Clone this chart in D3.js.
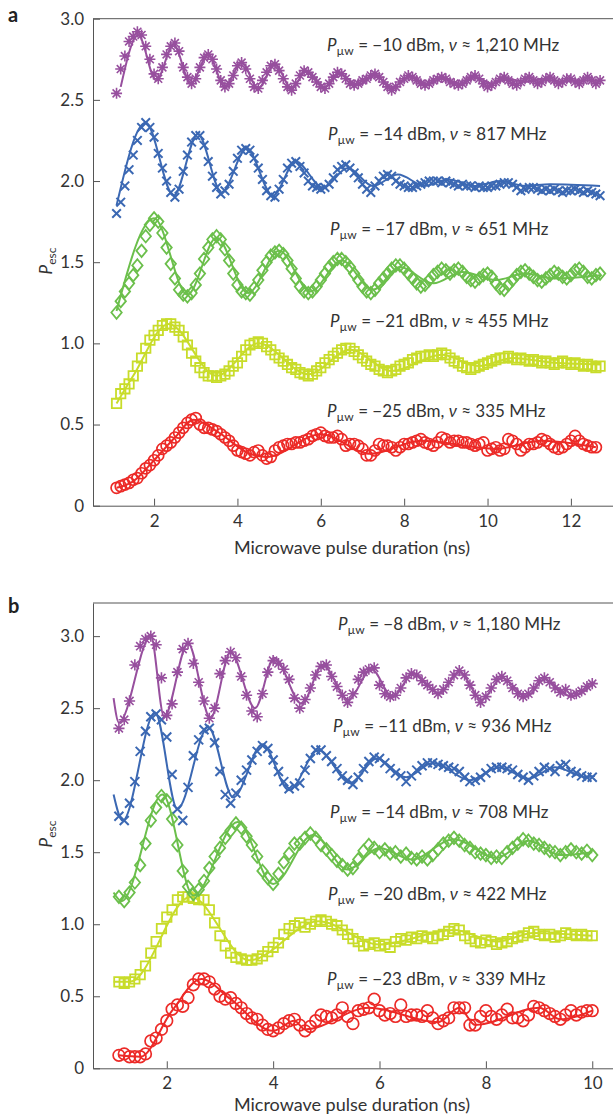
<!DOCTYPE html>
<html>
<head>
<meta charset="utf-8">
<script src="https://cdn.jsdelivr.net/npm/d3@7"></script>
<style>
  body { margin: 0; background: #fff; }
  svg text { font-family: Lato, "Open Sans", sans-serif; font-size: 17px; fill: #333; }
  .axis path, .axis line { stroke: #555; }
</style>
</head>
<body>
<svg id="chart" width="613" height="1118"></svg>
<script>
// ---------- panel a: pulse durations (ns) ----------
const timesA = [
  1.1, 1.2, 1.3, 1.4, 1.5, 1.6, 1.7, 1.8, 1.9, 2.0,
  2.1, 2.2, 2.3, 2.4, 2.5, 2.6, 2.7, 2.8, 2.9, 3.0,
  3.1, 3.2, 3.3, 3.4, 3.5, 3.6, 3.7, 3.8, 3.9, 4.0,
  4.1, 4.2, 4.3, 4.4, 4.5, 4.6, 4.7, 4.8, 4.9, 5.0,
  5.1, 5.2, 5.3, 5.4, 5.5, 5.6, 5.7, 5.8, 5.9, 6.0,
  6.1, 6.2, 6.3, 6.4, 6.5, 6.6, 6.7, 6.8, 6.9, 7.0,
  7.1, 7.2, 7.3, 7.4, 7.5, 7.6, 7.7, 7.8, 7.9, 8.0,
  8.1, 8.2, 8.3, 8.4, 8.5, 8.6, 8.7, 8.8, 8.9, 9.0,
  9.1, 9.2, 9.3, 9.4, 9.5, 9.6, 9.7, 9.8, 9.9, 10.0,
  10.1, 10.2, 10.3, 10.4, 10.5, 10.6, 10.7, 10.8, 10.9, 11.0,
  11.1, 11.2, 11.3, 11.4, 11.5, 11.6, 11.7, 11.8, 11.9, 12.0,
  12.1, 12.2, 12.3, 12.4, 12.5, 12.6, 12.7
];

// measured P_esc (offset curves), panel a
const purpleA = [
  2.54, 2.69, 2.77, 2.86, 2.89, 2.92, 2.90, 2.83, 2.75, 2.66,
  2.63, 2.70, 2.78, 2.83, 2.85, 2.80, 2.70, 2.64, 2.60, 2.63,
  2.70, 2.76, 2.78, 2.75, 2.69, 2.62, 2.58, 2.60, 2.65, 2.71,
  2.73, 2.69, 2.63, 2.58, 2.57, 2.62, 2.67, 2.71, 2.72, 2.68,
  2.63, 2.58, 2.56, 2.60, 2.65, 2.68, 2.67, 2.64, 2.61, 2.58,
  2.57, 2.60, 2.64, 2.67, 2.66, 2.63, 2.60, 2.59, 2.60, 2.62,
  2.63, 2.65, 2.66, 2.64, 2.61, 2.58, 2.56, 2.58, 2.61, 2.63,
  2.65, 2.64, 2.62, 2.60, 2.59, 2.60, 2.62, 2.63, 2.64, 2.63,
  2.61, 2.60, 2.59, 2.60, 2.62, 2.64, 2.65, 2.63, 2.60, 2.58,
  2.59, 2.61, 2.63, 2.64, 2.62, 2.60, 2.59, 2.61, 2.63, 2.64,
  2.62, 2.60, 2.61, 2.63, 2.64, 2.62, 2.60, 2.61, 2.63, 2.63,
  2.61, 2.60, 2.62, 2.64, 2.62, 2.60, 2.62
];
const blueA = [
  1.80, 1.87, 1.97, 2.07, 2.16, 2.25, 2.33, 2.36, 2.33, 2.27,
  2.17, 2.08, 2.00, 1.93, 1.90, 1.95, 2.06, 2.16, 2.24, 2.28,
  2.28, 2.22, 2.12, 2.03, 1.96, 1.92, 1.94, 1.98, 2.06, 2.14,
  2.19, 2.20, 2.19, 2.14, 2.08, 2.01, 1.94, 1.91, 1.90, 1.95,
  2.01, 2.08, 2.11, 2.12, 2.09, 2.05, 2.00, 1.97, 1.96, 1.95,
  1.96, 1.98, 2.02, 2.07, 2.09, 2.10, 2.08, 2.05, 2.02, 1.98,
  1.95, 1.93, 1.97, 2.00, 2.03, 2.04, 2.03, 2.00, 1.98, 1.97,
  1.96, 1.96, 1.97, 1.98, 1.99, 2.00, 2.00, 2.00, 1.99, 2.00,
  1.99, 1.98, 1.97, 1.98, 1.97, 1.97, 1.96, 1.97, 1.96, 1.96,
  1.97, 1.97, 1.98, 1.99, 1.99, 1.98, 1.96, 1.94, 1.95, 1.96,
  1.96, 1.95, 1.94, 1.95, 1.94, 1.95, 1.94, 1.93, 1.94, 1.94,
  1.95, 1.94, 1.93, 1.94, 1.93, 1.92, 1.91
];
const greenA = [
  1.19, 1.26, 1.32, 1.37, 1.42, 1.48, 1.57, 1.66, 1.73, 1.77,
  1.75, 1.68, 1.59, 1.49, 1.40, 1.33, 1.30, 1.29, 1.31, 1.36,
  1.43, 1.52, 1.59, 1.64, 1.66, 1.64, 1.58, 1.51, 1.43, 1.36,
  1.32, 1.31, 1.30, 1.34, 1.39, 1.45, 1.50, 1.54, 1.56, 1.57,
  1.55, 1.51, 1.46, 1.40, 1.35, 1.32, 1.31, 1.32, 1.35, 1.39,
  1.43, 1.47, 1.50, 1.52, 1.52, 1.50, 1.47, 1.43, 1.39, 1.35,
  1.32, 1.31, 1.33, 1.37, 1.40, 1.43, 1.46, 1.48, 1.48, 1.46,
  1.43, 1.40, 1.37, 1.35, 1.36, 1.39, 1.42, 1.44, 1.46, 1.45,
  1.43, 1.45, 1.46, 1.44, 1.41, 1.39, 1.38, 1.40, 1.42, 1.43,
  1.41, 1.37, 1.34, 1.33, 1.36, 1.39, 1.42, 1.44, 1.45, 1.43,
  1.41, 1.39, 1.38, 1.40, 1.42, 1.44, 1.43, 1.41, 1.40, 1.42,
  1.45, 1.46, 1.44, 1.41, 1.40, 1.42, 1.43
];
const yellowA = [
  0.63, 0.69, 0.72, 0.75, 0.80, 0.86, 0.91, 0.97, 1.02, 1.05,
  1.08, 1.11, 1.12, 1.12, 1.10, 1.08, 1.04, 0.99, 0.94, 0.89,
  0.85, 0.82, 0.80, 0.80, 0.79, 0.80, 0.81, 0.83, 0.86, 0.88,
  0.92, 0.96, 0.99, 1.00, 1.01, 1.00, 0.98, 0.96, 0.93, 0.91,
  0.89, 0.87, 0.85, 0.84, 0.82, 0.81, 0.80, 0.81, 0.83, 0.85,
  0.88, 0.90, 0.92, 0.94, 0.96, 0.97, 0.97, 0.95, 0.93, 0.91,
  0.89, 0.87, 0.86, 0.84, 0.83, 0.82, 0.83, 0.84, 0.86, 0.87,
  0.88, 0.90, 0.91, 0.92, 0.92, 0.93, 0.92, 0.93, 0.94, 0.93,
  0.91, 0.89, 0.88, 0.86, 0.85, 0.84, 0.85, 0.86, 0.87, 0.88,
  0.89, 0.90, 0.91, 0.91, 0.92, 0.91, 0.90, 0.91, 0.90, 0.89,
  0.90, 0.89, 0.88, 0.89, 0.88, 0.87, 0.88, 0.89, 0.88, 0.87,
  0.88, 0.87, 0.86, 0.87, 0.86, 0.85, 0.86
];
const redA = [
  0.11, 0.12, 0.13, 0.14, 0.16, 0.17, 0.20, 0.23, 0.25, 0.28,
  0.31, 0.35, 0.37, 0.39, 0.42, 0.45, 0.48, 0.51, 0.53, 0.54,
  0.50, 0.48, 0.48, 0.47, 0.46, 0.44, 0.42, 0.40, 0.37, 0.34,
  0.33, 0.32, 0.31, 0.33, 0.34, 0.31, 0.29, 0.30, 0.34, 0.36,
  0.37, 0.38, 0.38, 0.39, 0.39, 0.40, 0.41, 0.43, 0.44, 0.45,
  0.43, 0.42, 0.42, 0.43, 0.41, 0.37, 0.38, 0.38, 0.37, 0.35,
  0.31, 0.31, 0.34, 0.38, 0.37, 0.37, 0.36, 0.34, 0.36, 0.38,
  0.38, 0.39, 0.40, 0.41, 0.39, 0.38, 0.37, 0.39, 0.42, 0.41,
  0.39, 0.40, 0.40, 0.39, 0.39, 0.38, 0.37, 0.38, 0.39, 0.34,
  0.35, 0.36, 0.34, 0.35, 0.41, 0.40, 0.38, 0.34, 0.36, 0.38,
  0.38, 0.39, 0.41, 0.40, 0.38, 0.36, 0.35, 0.36, 0.38, 0.40,
  0.43, 0.40, 0.38, 0.37, 0.36, 0.36
];

// fitted curves, read at their turning points [t, P]
const purpleFitA = [[1.2, 2.58], [1.62, 2.90], [2.05, 2.62], [2.47, 2.84], [2.88, 2.60], [3.3, 2.78], [3.7, 2.58], [4.1, 2.73], [4.5, 2.57], [4.9, 2.72], [5.3, 2.57], [5.65, 2.68], [6.1, 2.58], [6.45, 2.66], [6.9, 2.59], [7.3, 2.65], [7.72, 2.58], [8.15, 2.64], [8.55, 2.60], [8.95, 2.63], [9.35, 2.60], [9.72, 2.64], [10.1, 2.60], [10.5, 2.63], [10.9, 2.61], [11.3, 2.63], [11.7, 2.61], [12.1, 2.62], [12.7, 2.62]];
const blueFitA = [[1.1, 1.85], [1.8, 2.36], [2.47, 1.91], [3.05, 2.29], [3.62, 1.93], [4.22, 2.20], [4.85, 1.91], [5.4, 2.12], [6.05, 1.96], [6.65, 2.08], [7.25, 1.97], [7.85, 2.04], [8.5, 1.97], [9.05, 2.01], [9.7, 1.97], [10.3, 2.00], [10.9, 1.97], [11.5, 1.98], [12.7, 1.97]];
const greenFitA = [[1.1, 1.20], [2.0, 1.77], [2.8, 1.30], [3.5, 1.65], [4.25, 1.31], [5.0, 1.57], [5.75, 1.32], [6.5, 1.51], [7.25, 1.33], [7.9, 1.47], [8.7, 1.37], [9.4, 1.44], [10.2, 1.39], [10.9, 1.43], [11.6, 1.40], [12.7, 1.42]];
const yellowFitA = [[1.1, 0.63], [1.5, 0.80], [2.35, 1.12], [3.5, 0.80], [4.5, 1.00], [5.7, 0.81], [6.7, 0.96], [7.7, 0.83], [8.9, 0.93], [9.8, 0.86], [10.6, 0.91], [11.6, 0.88], [12.7, 0.87]];
const redFitA = [[1.1, 0.11], [1.5, 0.15], [2.0, 0.28], [2.5, 0.42], [2.95, 0.53], [3.5, 0.46], [4.3, 0.32], [4.7, 0.30], [6.0, 0.44], [7.2, 0.32], [8.4, 0.40], [10.2, 0.35], [11.3, 0.40], [12.6, 0.36]];

// ---------- panel b ----------
const timesB = [
  1.1, 1.2, 1.3, 1.4, 1.5, 1.6, 1.7, 1.8, 1.9, 2.0,
  2.1, 2.2, 2.3, 2.4, 2.5, 2.6, 2.7, 2.8, 2.9, 3.0,
  3.1, 3.2, 3.3, 3.4, 3.5, 3.6, 3.7, 3.8, 3.9, 4.0,
  4.1, 4.2, 4.3, 4.4, 4.5, 4.6, 4.7, 4.8, 4.9, 5.0,
  5.1, 5.2, 5.3, 5.4, 5.5, 5.6, 5.7, 5.8, 5.9, 6.0,
  6.1, 6.2, 6.3, 6.4, 6.5, 6.6, 6.7, 6.8, 6.9, 7.0,
  7.1, 7.2, 7.3, 7.4, 7.5, 7.6, 7.7, 7.8, 7.9, 8.0,
  8.1, 8.2, 8.3, 8.4, 8.5, 8.6, 8.7, 8.8, 8.9, 9.0,
  9.1, 9.2, 9.3, 9.4, 9.5, 9.6, 9.7, 9.8, 9.9, 10.0
];
const purpleB = [
  2.36, 2.42, 2.55, 2.80, 2.93, 2.98, 3.00, 2.94, 2.71, 2.45,
  2.53, 2.75, 2.91, 2.95, 2.81, 2.68, 2.55, 2.43, 2.50, 2.74,
  2.83, 2.89, 2.85, 2.72, 2.59, 2.48, 2.44, 2.60, 2.75, 2.83,
  2.81, 2.77, 2.70, 2.57, 2.50, 2.56, 2.64, 2.73, 2.79, 2.80,
  2.72, 2.65, 2.59, 2.54, 2.60, 2.70, 2.75, 2.77, 2.78, 2.66,
  2.60, 2.58, 2.59, 2.64, 2.71, 2.74, 2.73, 2.69, 2.66, 2.63,
  2.60, 2.63, 2.68, 2.73, 2.76, 2.73, 2.66, 2.59, 2.54, 2.58,
  2.64, 2.70, 2.72, 2.69, 2.64, 2.60, 2.58, 2.60, 2.64, 2.69,
  2.71, 2.68, 2.64, 2.61, 2.63, 2.59, 2.60, 2.62, 2.65, 2.67
];
const blueB = [
  1.75, 1.72, 1.84, 1.99, 2.20, 2.34, 2.44, 2.46, 2.42, 2.30,
  2.04, 1.80, 1.72, 1.95, 2.17, 2.28, 2.35, 2.36, 2.26, 2.06,
  1.90, 1.84, 1.91, 2.00, 2.07, 2.14, 2.20, 2.24, 2.22, 2.14,
  2.06, 1.99, 1.94, 1.96, 1.98, 2.07, 2.15, 2.21, 2.21, 2.17,
  2.13, 2.08, 2.03, 2.00, 1.97, 2.02, 2.08, 2.13, 2.16, 2.15,
  2.12, 2.08, 2.05, 2.03, 1.99, 2.03, 2.07, 2.10, 2.12, 2.12,
  2.11, 2.10, 2.09, 2.08, 2.06, 2.02, 1.99, 2.00, 2.02, 2.05,
  2.08, 2.09, 2.09, 2.08, 2.07, 2.04, 2.02, 2.00, 2.03, 2.06,
  2.09, 2.08, 2.06, 2.10, 2.11, 2.06, 2.05, 2.03, 2.02, 2.02
];
const greenB = [
  1.19, 1.16, 1.22, 1.29, 1.41, 1.56, 1.72, 1.81, 1.89, 1.86,
  1.73, 1.55, 1.37, 1.26, 1.21, 1.24, 1.30, 1.39, 1.47, 1.53,
  1.60, 1.65, 1.70, 1.67, 1.61, 1.55, 1.47, 1.37, 1.32, 1.28,
  1.35, 1.43, 1.49, 1.56, 1.56, 1.60, 1.63, 1.60, 1.55, 1.52,
  1.48, 1.44, 1.41, 1.38, 1.39, 1.45, 1.51, 1.55, 1.53, 1.50,
  1.52, 1.49, 1.50, 1.47, 1.49, 1.46, 1.45, 1.47, 1.45, 1.48,
  1.52, 1.56, 1.58, 1.60, 1.58, 1.55, 1.53, 1.50, 1.49, 1.48,
  1.46, 1.47, 1.46, 1.50, 1.53, 1.56, 1.59, 1.58, 1.56, 1.55,
  1.53, 1.51, 1.50, 1.48, 1.50, 1.52, 1.50, 1.49, 1.51, 1.48
];
const yellowB = [
  0.60, 0.59, 0.60, 0.62, 0.65, 0.71, 0.80, 0.88, 0.97, 1.05,
  1.10, 1.17, 1.19, 1.19, 1.18, 1.17, 1.17, 1.10, 1.01, 0.92,
  0.85, 0.80, 0.77, 0.76, 0.75, 0.75, 0.76, 0.78, 0.81, 0.84,
  0.87, 0.93, 0.97, 0.99, 1.01, 0.98, 1.00, 1.02, 1.03, 1.02,
  1.00, 0.99, 0.96, 0.93, 0.90, 0.88, 0.85, 0.86, 0.87, 0.85,
  0.86, 0.84, 0.88, 0.90, 0.89, 0.91, 0.90, 0.92, 0.91, 0.90,
  0.92, 0.93, 0.95, 0.97, 0.96, 0.92, 0.90, 0.88, 0.87, 0.89,
  0.88, 0.86, 0.87, 0.88, 0.90, 0.91, 0.92, 0.94, 0.95, 0.93,
  0.92, 0.93, 0.91, 0.92, 0.94, 0.93, 0.92, 0.93, 0.92, 0.92
];
const redB = [
  0.09, 0.10, 0.08, 0.08, 0.08, 0.10, 0.19, 0.21, 0.27, 0.33,
  0.41, 0.44, 0.43, 0.49, 0.58, 0.62, 0.62, 0.60, 0.55, 0.50,
  0.48, 0.49, 0.45, 0.42, 0.38, 0.35, 0.34, 0.30, 0.27, 0.26,
  0.28, 0.31, 0.33, 0.34, 0.30, 0.26, 0.29, 0.33, 0.37, 0.36,
  0.35, 0.37, 0.42, 0.36, 0.31, 0.40, 0.41, 0.42, 0.48, 0.40,
  0.37, 0.38, 0.36, 0.44, 0.36, 0.37, 0.37, 0.36, 0.40, 0.35,
  0.31, 0.33, 0.35, 0.42, 0.42, 0.42, 0.30, 0.30, 0.36, 0.40,
  0.36, 0.34, 0.37, 0.41, 0.35, 0.35, 0.33, 0.37, 0.43, 0.42,
  0.40, 0.38, 0.36, 0.34, 0.37, 0.40, 0.37, 0.39, 0.40, 0.40
];
const purpleFitB = [[1.0, 2.57], [1.1, 2.40], [1.7, 3.00], [1.95, 2.44], [2.4, 2.95], [2.82, 2.43], [3.2, 2.89], [3.66, 2.50], [4.02, 2.85], [4.54, 2.53], [4.93, 2.80], [5.41, 2.56], [5.85, 2.77], [6.24, 2.58], [6.64, 2.74], [7.12, 2.60], [7.5, 2.75], [7.92, 2.56], [8.3, 2.71], [8.77, 2.58], [9.1, 2.70], [9.6, 2.58], [10.05, 2.68]];
const blueFitB = [[1.0, 1.90], [1.17, 1.72], [1.78, 2.47], [2.2, 1.80], [2.78, 2.37], [3.25, 1.88], [3.8, 2.25], [4.3, 1.93], [4.85, 2.21], [5.45, 1.98], [5.95, 2.15], [6.5, 2.02], [7.0, 2.12], [7.7, 2.00], [8.25, 2.09], [8.8, 2.01], [9.3, 2.09], [9.9, 2.02], [10.05, 2.03]];
const greenFitB = [[1.0, 1.22], [1.15, 1.16], [1.92, 1.90], [2.5, 1.20], [3.33, 1.71], [4.0, 1.28], [4.75, 1.62], [5.4, 1.38], [6.0, 1.53], [6.6, 1.45], [7.4, 1.59], [8.2, 1.46], [8.8, 1.58], [9.4, 1.48], [10.0, 1.50]];
const yellowFitB = [[1.0, 0.60], [1.3, 0.60], [2.45, 1.19], [3.55, 0.75], [4.85, 1.02], [6.0, 0.86], [7.4, 0.96], [8.2, 0.88], [8.9, 0.94], [10.0, 0.92]];
const redFitB = [[1.1, 0.09], [1.5, 0.08], [2.1, 0.40], [2.65, 0.62], [3.2, 0.48], [4.0, 0.26], [4.4, 0.33], [4.6, 0.27], [5.8, 0.42], [7.1, 0.32], [7.5, 0.42], [7.8, 0.30], [9.0, 0.42], [9.4, 0.34], [10.0, 0.40]];

// curve labels: microwave power (dBm) and frequency (MHz)
const powersA = ["\u221210", "\u221214", "\u221217", "\u221221", "\u221225"];
const freqsA = ["1,210", "817", "651", "455", "335"];
const powersB = ["\u22128", "\u221211", "\u221214", "\u221220", "\u221223"];
const freqsB = ["1,180", "936", "708", "422", "339"];

const xTicksA = [2, 4, 6, 8, 10, 12];
const xTicksB = [2, 4, 6, 8, 10];
const yTicks = [0, 0.5, 1.0, 1.5, 2.0, 2.5, 3.0];

const colors = {
  purple: "#974f9e",
  blue: "#3b68b3",
  green: "#6bbf4b",
  yellow: "#c8dc2a",
  red: "#ec2a27"
};

const svg = d3.select("#chart");

// marker shapes
const markers = {
  asterisk: r => {
    const d = r * 0.72;
    return `M${-r},0L${r},0M0,${-r}L0,${r}M${-d},${-d}L${d},${d}M${-d},${d}L${d},${-d}`;
  },
  times: r => `M${-r},${-r}L${r},${r}M${-r},${r}L${r},${-r}`,
  diamond: r => `M0,${-r * 1.2}L${r},0L0,${r * 1.2}L${-r},0Z`,
  square: r => `M${-r},${-r}H${r}V${r}H${-r}Z`,
  circle: r => `M${r},0A${r},${r},0,1,1,${-r},0A${r},${r},0,1,1,${r},0Z`
};

function drawPanel(p) {
  const x = d3.scaleLinear().domain(p.xDomain).range([93, 613]);
  const y = d3.scaleLinear().domain(p.yDomain).range([p.bottom, p.top]);
  const g = svg.append("g");

  // axes
  g.append("g")
    .attr("class", "axis")
    .attr("transform", `translate(0,${p.bottom})`)
    .call(d3.axisBottom(x).tickValues(p.xTicks).tickSizeInner(-7).tickSizeOuter(0).tickPadding(9));
  g.append("g")
    .attr("class", "axis")
    .attr("transform", "translate(93,0)")
    .call(d3.axisLeft(y).tickValues(yTicks).tickSizeInner(-7).tickSizeOuter(0).tickPadding(9)
      .tickFormat(d => d === 0 ? "0" : d3.format(".1f")(d)));
  g.selectAll(".axis path, .axis line").attr("stroke", "#555");

  // top frame line
  g.append("line")
    .attr("x1", x.range()[0]).attr("x2", x.range()[1])
    .attr("y1", y.range()[1]).attr("y2", y.range()[1])
    .attr("stroke", "#555");

  const line = d3.line()
    .x(d => x(d[0]))
    .y(d => y(d[1]))
    .curve(d3.curveMonotoneX);

  p.series.forEach(s => {
    const pts = s.values.map((v, i) => [p.times[i], v]);
    g.append("g")
      .selectAll("path")
      .data(pts)
      .enter().append("path")
      .attr("transform", d => `translate(${x(d[0])},${y(d[1])})`)
      .attr("d", markers[s.marker](s.size))
      .attr("fill", "none")
      .attr("stroke", colors[s.color])
      .attr("stroke-width", s.stroke);
    g.append("path")
      .datum(s.fit)
      .attr("d", line)
      .attr("fill", "none")
      .attr("stroke", colors[s.color])
      .attr("stroke-width", 2);
  });

  // curve annotations
  p.labels.forEach((lb, i) => {
    const t = g.append("text")
      .attr("x", lb.x)
      .attr("y", lb.y);
    t.append("tspan").attr("font-style", "italic").text("P");
    t.append("tspan").attr("dy", 4).style("font-size", "12px").text("\u00b5w");
    t.append("tspan").attr("dy", -4).text(` = ${p.powers[i]} dBm, `);
    t.append("tspan").attr("font-style", "italic").text("\u03bd");
    t.append("tspan").text(` \u2248 ${p.freqs[i]} MHz`);
  });

  // axis titles
  g.append("text")
    .attr("x", 352)
    .attr("y", p.titleY)
    .attr("text-anchor", "middle")
    .style("font-size", "18px")
    .text("Microwave pulse duration (ns)");

  const yl = g.append("text")
    .attr("transform", `translate(52,${p.yLabelY}) rotate(-90)`)
    .attr("text-anchor", "middle");
  yl.append("tspan").attr("font-style", "italic").text("P");
  yl.append("tspan").attr("dy", 4).style("font-size", "12px").text("esc");

  g.append("text")
    .attr("x", 8)
    .attr("y", p.panelLabelY)
    .style("font-weight", "bold")
    .style("font-size", "20px")
    .style("fill", "#222")
    .text(p.name);
}

drawPanel({
  name: "a",
  panelLabelY: 22,
  times: timesA,
  xDomain: [0.535, 13.01],
  yDomain: [0, 3],
  top: 18.7,
  bottom: 505.7,
  xTicks: xTicksA,
  titleY: 554,
  yLabelY: 261,
  powers: powersA,
  freqs: freqsA,
  labels: [{x: 327, y: 51}, {x: 328, y: 140}, {x: 330, y: 235}, {x: 330, y: 327}, {x: 327, y: 417}],
  series: [
    {values: redA, fit: redFitA, color: "red", marker: "circle", size: 5.5, stroke: 1.7},
    {values: yellowA, fit: yellowFitA, color: "yellow", marker: "square", size: 4.7, stroke: 1.8},
    {values: greenA, fit: greenFitA, color: "green", marker: "diamond", size: 5.2, stroke: 1.8},
    {values: blueA, fit: blueFitA, color: "blue", marker: "times", size: 4.3, stroke: 2},
    {values: purpleA, fit: purpleFitA, color: "purple", marker: "asterisk", size: 5.5, stroke: 1.6}
  ]
});

drawPanel({
  name: "b",
  panelLabelY: 613,
  times: timesB,
  xDomain: [0.613, 10.39],
  yDomain: [0, 3.23],
  top: 603,
  bottom: 1068.3,
  xTicks: xTicksB,
  titleY: 1111,
  yLabelY: 834,
  powers: powersB,
  freqs: freqsB,
  labels: [{x: 338, y: 630}, {x: 333, y: 732}, {x: 330, y: 818}, {x: 328, y: 900}, {x: 327, y: 985}],
  series: [
    {values: redB, fit: redFitB, color: "red", marker: "circle", size: 5.8, stroke: 1.7},
    {values: yellowB, fit: yellowFitB, color: "yellow", marker: "square", size: 4.7, stroke: 1.8},
    {values: greenB, fit: greenFitB, color: "green", marker: "diamond", size: 5.2, stroke: 1.8},
    {values: blueB, fit: blueFitB, color: "blue", marker: "times", size: 4.5, stroke: 2},
    {values: purpleB, fit: purpleFitB, color: "purple", marker: "asterisk", size: 5.6, stroke: 1.6}
  ]
});
</script>
</body>
</html>
